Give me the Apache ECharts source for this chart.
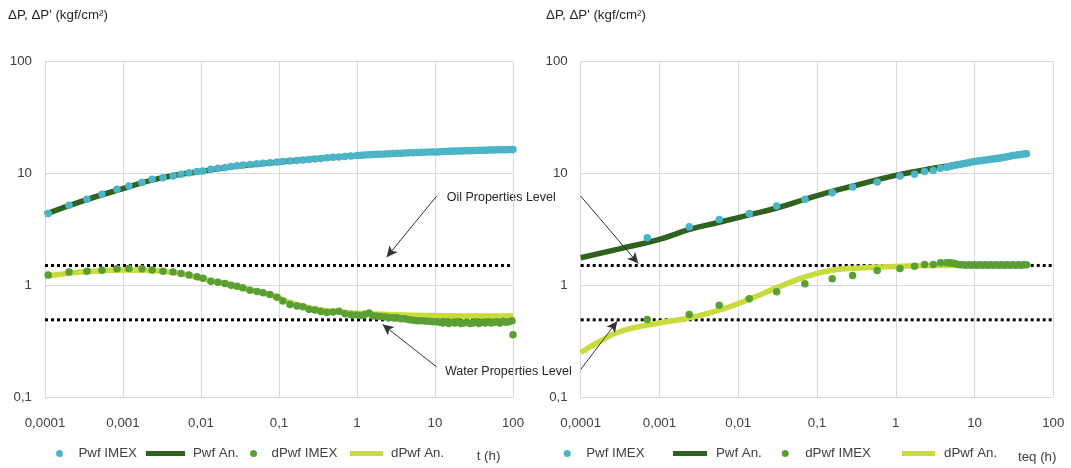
<!DOCTYPE html>
<html><head><meta charset="utf-8">
<script src="https://cdn.jsdelivr.net/npm/echarts@6/dist/echarts.min.js"></script>
<style>html,body{margin:0;padding:0;background:#fff}#c{width:1071px;height:468px}</style>
</head><body><div id="c"></div>
<script>
// ---------- DATA ----------
const xTickLabels = ['0,0001','0,001','0,01','0,1','1','10','100'];
const yTickLabels = ['0,1','1','10','100'];
const oilLevel = 1.5;
const waterLevel = 0.49;

// Left chart (t, h)
const leftT = [0.00011,0.000203,0.000345,0.000538,0.000838,0.00119,0.00175,0.00236,0.00326,0.00438,0.00555,0.00702,0.00889,0.0106,0.0134,0.0165,0.0203,0.0243,0.029,0.0345,0.0425,0.0522,0.0624,0.0767,0.0942,0.112,0.138,0.170,0.203,0.243,0.290,0.345,0.412,0.492,0.587,0.70,0.838,1.0,1.13,1.27,1.43,1.6,1.8,2.03,2.28,2.57,2.9,3.26,3.67,4.12,4.64,5.22,5.87,6.62,7.44,8.38,9.42,10.6,11.6,12.7,13.8,15.1,16.5,18.0,19.7,21.5,23.5,25.7,28.1,30.7,33.6,36.7,40.1,43.8,47.8,52.2,57.1,62.4,68.1,74.5,81.3,88.9,97.1,100];
const leftPwfImex = [4.38,5.17,5.85,6.49,7.19,7.7,8.26,8.84,9.15,9.46,9.8,10.1,10.36,10.5,10.9,11.1,11.3,11.5,11.7,11.85,12.0,12.15,12.3,12.45,12.6,12.75,12.9,13.0,13.15,13.3,13.45,13.6,13.75,13.9,14.0,14.15,14.3,14.45,14.5,14.6,14.65,14.7,14.8,14.85,14.9,15.0,15.05,15.1,15.15,15.2,15.25,15.3,15.35,15.4,15.45,15.5,15.5,15.55,15.6,15.65,15.7,15.72,15.75,15.8,15.83,15.86,15.9,15.93,15.96,16.0,16.03,16.06,16.1,16.12,16.15,16.18,16.2,16.22,16.24,16.26,16.28,16.3,16.32,16.33];
const leftDPwfImex = [1.23,1.31,1.33,1.36,1.40,1.41,1.40,1.37,1.33,1.31,1.27,1.23,1.19,1.155,1.085,1.06,1.035,1.0,0.98,0.947,0.90,0.88,0.855,0.826,0.78,0.72,0.67,0.65,0.64,0.61,0.6,0.58,0.57,0.575,0.585,0.555,0.545,0.54,0.535,0.55,0.565,0.53,0.53,0.525,0.52,0.515,0.51,0.51,0.5,0.5,0.49,0.486,0.48,0.48,0.478,0.476,0.47,0.47,0.465,0.46,0.47,0.455,0.465,0.46,0.47,0.455,0.46,0.465,0.455,0.46,0.47,0.455,0.465,0.46,0.47,0.46,0.465,0.47,0.46,0.475,0.465,0.47,0.48,0.36];
const leftPwfAnT = [0.0001,0.0003,0.001,0.003,0.01,0.03,0.1,0.3,1,3,10,30,100];
const leftPwfAn  = [4.3,5.65,7.3,9.05,10.4,11.6,12.6,13.5,14.4,15.0,15.5,15.95,16.3];
const leftDPwfAnT = [0.0001,0.0002,0.0004,0.001,0.002,0.004,0.006,0.01,0.02,0.03,0.06,0.1,0.13,0.2,0.3,0.5,1,3,10,30,100];
const leftDPwfAn  = [1.2,1.28,1.33,1.37,1.36,1.31,1.26,1.15,1.03,0.96,0.86,0.77,0.71,0.65,0.61,0.585,0.56,0.545,0.535,0.53,0.53];

// Right chart (teq, h)
const rightT = [0.0007,0.00239,0.00574,0.0138,0.0307,0.0702,0.156,0.283,0.581,1.13,1.73,2.32,2.99,3.7,4.42,4.79,5.19,5.62,6.1,6.61,7.16,7.76,8.41,9.12,9.89,10.7,11.6,12.6,13.6,14.8,16.0,17.4,18.8,20.4,22.1,24.0,26.0,28.2,30.5,33.1,35.9,38.9,42.2,45.7];
const rightPwfImex = [2.66,3.33,3.87,4.38,5.1,5.85,6.72,7.54,8.36,9.46,9.8,10.36,10.6,11.1,11.35,11.5,11.65,11.8,11.95,12.05,12.2,12.3,12.45,12.6,12.75,12.85,12.95,13.05,13.15,13.25,13.35,13.45,13.55,13.65,13.8,13.95,14.1,14.25,14.4,14.5,14.65,14.75,14.9,15.0];
const rightDPwfImex = [0.493,0.547,0.662,0.755,0.873,1.03,1.14,1.22,1.35,1.41,1.48,1.53,1.53,1.59,1.59,1.59,1.58,1.56,1.53,1.52,1.52,1.51,1.52,1.51,1.52,1.51,1.52,1.51,1.52,1.51,1.52,1.51,1.52,1.51,1.52,1.51,1.52,1.51,1.52,1.51,1.52,1.51,1.52,1.52];
const rightPwfAnT = [0.0001,0.0003,0.001,0.0024,0.0057,0.0138,0.0307,0.07,0.156,0.29,1,3.3,10,46];
const rightPwfAn  = [1.76,2.1,2.57,3.15,3.65,4.25,4.9,5.85,6.9,7.7,9.6,11.2,12.8,15.0];
const rightDPwfAnT = [0.0001,0.000176,0.000286,0.00051,0.001,0.0024,0.0059,0.014,0.031,0.074,0.156,0.32,1,3.3,10,46];
const rightDPwfAn  = [0.25,0.315,0.375,0.42,0.46,0.51,0.6,0.75,0.95,1.2,1.36,1.42,1.47,1.5,1.51,1.52];

// Annotation arrows (data coordinates: from, to)
const leftOilArrow = [[10.5,6.26],[2.4,1.78]];
const leftWaterArrow = [[10.5,0.186],[2.13,0.445]];
const rightOilArrow = [[0.0001,6.26],[0.000538,1.56]];
const rightWaterArrow = [[0.0001,0.176],[0.000291,0.476]];

// ---------- STYLE ----------
const FONT = "'Liberation Sans', Arial, sans-serif";
const FS = 13.3;
const FS_NOTE = 12.5;
const TXT = '#404040';
const C_CYAN = '#4BB4C6', C_DKGREEN = '#30621F', C_GREEN = '#5A9F36', C_LIME = '#C8DA3C';
const zip = (a, b) => a.map((v, i) => [v, b[i]]);

function xAxisCfg(gi) {
  return {
    type: 'log', logBase: 10, gridIndex: gi, min: 0.0001, max: 100,
    axisLine: { show: true, lineStyle: { color: '#D9D9D9', width: 1 } },
    axisTick: { show: false },
    splitLine: { show: true, lineStyle: { color: '#D9D9D9', width: 1 } },
    minorTick: { show: false }, minorSplitLine: { show: false },
    axisLabel: { margin: 20, color: TXT, fontSize: FS, fontFamily: FONT,
      formatter: v => xTickLabels[Math.round(Math.log10(v)) + 4] }
  };
}
function yAxisCfg(gi) {
  return {
    type: 'log', logBase: 10, gridIndex: gi, min: 0.1, max: 100,
    axisLine: { show: true, lineStyle: { color: '#D9D9D9', width: 1 } },
    axisTick: { show: false },
    splitLine: { show: true, lineStyle: { color: '#D9D9D9', width: 1 } },
    axisLabel: { margin: 13, color: TXT, fontSize: FS, fontFamily: FONT,
      formatter: v => yTickLabels[Math.round(Math.log10(v)) + 1] }
  };
}
function levelSeries(gi, level, arrow) {
  return {
    type: 'line', xAxisIndex: gi, yAxisIndex: gi, z: 1, silent: true,
    data: [[0.0001, level], [100, level]], showSymbol: false, symbol: 'none',
    lineStyle: { color: '#000', width: 3, type: [3, 3], cap: 'butt' },
    markLine: {
      silent: true, symbol: ['none', 'arrow'], symbolSize: [8, 11],
      label: { show: false },
      lineStyle: { color: '#333', width: 1, type: 'solid' },
      data: [[{ coord: arrow[0] }, { coord: arrow[1] }]]
    }
  };
}
function chartSeries(gi, sfx, d) {
  return [
    levelSeries(gi, oilLevel, d.oilArrow),
    levelSeries(gi, waterLevel, d.waterArrow),
    { name: 'Pwf An.' + sfx, type: 'line', xAxisIndex: gi, yAxisIndex: gi, z: 2, smooth: true,
      data: zip(d.pwfAnT, d.pwfAn), showSymbol: false, symbol: 'none',
      itemStyle: { color: C_DKGREEN }, lineStyle: { color: C_DKGREEN, width: 5.5 } },
    { name: 'dPwf An.' + sfx, type: 'line', xAxisIndex: gi, yAxisIndex: gi, z: 2, smooth: true,
      data: zip(d.dAnT, d.dAn), showSymbol: false, symbol: 'none',
      itemStyle: { color: C_LIME }, lineStyle: { color: C_LIME, width: 5.5 } },
    { name: 'Pwf IMEX' + sfx, type: 'scatter', xAxisIndex: gi, yAxisIndex: gi, z: 3,
      data: zip(d.t, d.pwf), symbolSize: 7.5, itemStyle: { color: C_CYAN, opacity: 1 } },
    { name: 'dPwf IMEX' + sfx, type: 'scatter', xAxisIndex: gi, yAxisIndex: gi, z: 3,
      data: zip(d.t, d.dpwf), symbolSize: 7.5, itemStyle: { color: C_GREEN, opacity: 1 } }
  ];
}
function legendItem(name, label, icon, left, w, h, pad) {
  return {
    data: [{ name: name, icon: icon }], left: left, top: 447, padding: 0,
    itemWidth: w, itemHeight: h, selectedMode: false,
    formatter: () => label,
    textStyle: { color: TXT, fontSize: FS, fontFamily: FONT, padding: [0, 0, 0, pad] }
  };
}

const chart = echarts.init(document.getElementById('c'), null, { renderer: 'canvas' });
chart.setOption({
  animation: false,
  backgroundColor: '#fff',
  grid: [
    { left: 45, top: 61.5, width: 468, height: 335.5, containLabel: false },
    { left: 580.7, top: 61.5, width: 472.6, height: 335.5, containLabel: false }
  ],
  xAxis: [xAxisCfg(0), xAxisCfg(1)],
  yAxis: [yAxisCfg(0), yAxisCfg(1)],
  legend: [
    legendItem('Pwf IMEX', 'Pwf IMEX', 'circle', 56, 28, 7, 0),
    legendItem('Pwf An.', 'Pwf An.', 'rect', 146, 39, 5, 3),
    legendItem('dPwf IMEX', 'dPwf IMEX', 'circle', 250, 26, 7, 0),
    legendItem('dPwf An.', 'dPwf An.', 'rect', 350, 33, 5, 3),
    legendItem('Pwf IMEX ', 'Pwf IMEX', 'circle', 563.7, 28, 7, 0),
    legendItem('Pwf An. ', 'Pwf An.', 'rect', 673, 34, 5, 4),
    legendItem('dPwf IMEX ', 'dPwf IMEX', 'circle', 781.7, 30, 7, 0),
    legendItem('dPwf An. ', 'dPwf An.', 'rect', 902, 33, 5, 4)
  ],
  graphic: [
    { type: 'text', left: 8, top: 9, style: { text: 'ΔP, ΔP\' (kgf/cm²)', fill: '#262626', font: FS + 'px ' + FONT } },
    { type: 'text', left: 546, top: 9, style: { text: 'ΔP, ΔP\' (kgf/cm²)', fill: '#262626', font: FS + 'px ' + FONT } },
    { type: 'text', left: 446.7, top: 191, style: { text: 'Oil Properties Level', fill: '#262626', font: FS_NOTE + 'px ' + FONT } },
    { type: 'text', left: 445, top: 365, style: { text: 'Water Properties Level', fill: '#262626', font: FS_NOTE + 'px ' + FONT } },
    { type: 'text', left: 476.7, top: 450, style: { text: 't (h)', fill: TXT, font: FS + 'px ' + FONT } },
    { type: 'text', left: 1018, top: 451, style: { text: 'teq (h)', fill: TXT, font: FS + 'px ' + FONT } }
  ],
  series: [
    ...chartSeries(0, '', { oilArrow: leftOilArrow, waterArrow: leftWaterArrow,
      pwfAnT: leftPwfAnT, pwfAn: leftPwfAn, dAnT: leftDPwfAnT, dAn: leftDPwfAn,
      t: leftT, pwf: leftPwfImex, dpwf: leftDPwfImex }),
    ...chartSeries(1, ' ', { oilArrow: rightOilArrow, waterArrow: rightWaterArrow,
      pwfAnT: rightPwfAnT, pwfAn: rightPwfAn, dAnT: rightDPwfAnT, dAn: rightDPwfAn,
      t: rightT, pwf: rightPwfImex, dpwf: rightDPwfImex })
  ]
});
</script></body></html>
